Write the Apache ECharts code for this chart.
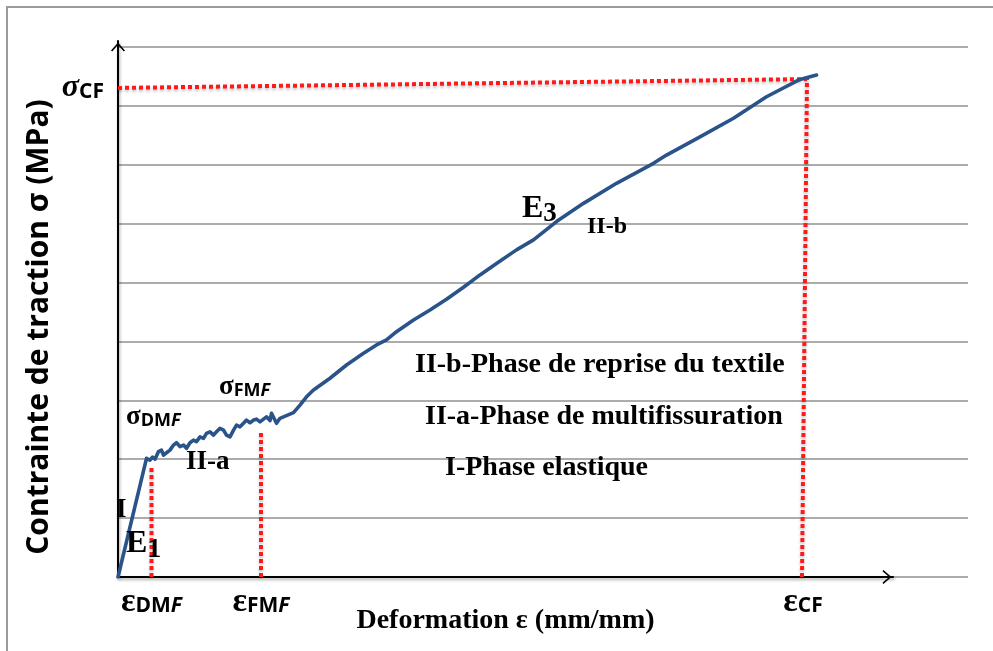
<!DOCTYPE html>
<html>
<head>
<meta charset="utf-8">
<script src="https://cdn.jsdelivr.net/npm/echarts@6/dist/echarts.min.js"></script>
<style>
  html, body { margin: 0; padding: 0; background: #ffffff; }
  #chart { width: 993px; height: 651px; }
</style>
</head>
<body>
<div id="chart"></div>
<script>
// Tensile behaviour of a textile-reinforced mortar: strain (mm/mm) vs tensile stress (MPa)

// Measured curve
const strain = [
  0, 0.00057, 0.00064, 0.00069, 0.00074, 0.00081, 0.00087, 0.00091, 0.00097, 0.00104,
  0.00111, 0.00117, 0.00124, 0.00131, 0.00137, 0.00144, 0.00151, 0.00157, 0.00164, 0.00171,
  0.00177, 0.00184, 0.00191, 0.00197, 0.00204, 0.00211, 0.00217, 0.00224, 0.00231, 0.00237,
  0.00244, 0.00251, 0.00257, 0.00264, 0.00271, 0.00277, 0.00284, 0.00291, 0.00297, 0.00304,
  0.00307, 0.00311, 0.00317, 0.00324, 0.00331, 0.00351, 0.00364, 0.00377, 0.00391, 0.00424,
  0.00457, 0.00491, 0.00517, 0.00537, 0.00557, 0.00591, 0.00624, 0.00657, 0.00691, 0.00724,
  0.00757, 0.00797, 0.00831, 0.00877, 0.00931, 0.00997, 0.01071, 0.01097, 0.01164, 0.01231,
  0.01297, 0.01364, 0.01397
];
const stress = [
  0, 4.03, 3.97, 4.07, 4.00, 4.26, 4.31, 4.14, 4.22, 4.31,
  4.48, 4.56, 4.43, 4.48, 4.37, 4.56, 4.65, 4.60, 4.76, 4.71,
  4.88, 4.93, 4.82, 4.93, 5.05, 4.99, 4.82, 4.76, 4.99, 5.16,
  5.10, 5.22, 5.33, 5.24, 5.33, 5.36, 5.27, 5.36, 5.44, 5.31,
  5.56, 5.50, 5.22, 5.39, 5.44, 5.58, 5.84, 6.12, 6.35, 6.75,
  7.20, 7.60, 7.88, 8.05, 8.33, 8.73, 9.07, 9.43, 9.84, 10.26,
  10.65, 11.11, 11.45, 12.07, 12.69, 13.37, 14.05, 14.33, 14.95, 15.58,
  16.31, 16.90, 17.05
];

// Dotted guide lines (strain, stress)
const guideCFStrain = [0, 0.01378, 0.01368];
const guideCFStress = [16.61, 16.91, 0];
const guideDMFStrain = [0.00067, 0.00067];
const guideDMFStress = [0, 3.70];
const guideFMFStrain = [0.00286, 0.00286];
const guideFMFStress = [0, 4.90];

// Characteristic points shown on the axes
const strainTicks = [0.00067, 0.00286, 0.01370];
const strainTickNames = ['DM|F', 'FM|F', 'CF|'];
const stressTicks = [16.61];
const stressTickNames = ['CF'];

// Annotation texts
const phaseNotes = [
  'II-b-Phase de reprise du textile',
  'II-a-Phase de multifissuration',
  'I-Phase elastique'
];

const SERIF = '"Liberation Serif", "Times New Roman", serif';
const SANS = '"Open Sans", "Liberation Sans", sans-serif';
const BLUE = '#2a5389';
const RED = '#ff1a1a';

const pairs = (xs, ys) => xs.map((x, i) => [x, ys[i]]);
const nearest = (arr, v) => {
  let best = 0;
  arr.forEach((a, i) => { if (Math.abs(a - v) < Math.abs(arr[best] - v)) best = i; });
  return best;
};

// Open chevron used as arrow head on both axes
const CHEVRON = 'path://M10,0 L20,11.6 L18.3,13 L10,3.5 L1.7,13 L0,11.6 Z';
const axisShadow = { shadowColor: 'rgba(0,0,0,0.35)', shadowBlur: 3, shadowOffsetX: 1, shadowOffsetY: 2 };

const dotted = {
  color: RED, width: 4, type: [4, 3], cap: 'butt',
  shadowColor: 'rgba(0,0,0,0.25)', shadowBlur: 3, shadowOffsetY: 2
};

function guideSeries(xs, ys) {
  return {
    type: 'line', xAxisIndex: 0, yAxisIndex: 0, data: pairs(xs, ys),
    symbol: 'none', lineStyle: dotted, z: 4, silent: true
  };
}

function subText(x, y, main, sub, opts) {
  const o = Object.assign({ mainSize: 30, subSize: 22, drop: 10, mainFont: SERIF, mainItalic: false, subFont: SERIF, subItalic: false, subBold: true }, opts || {});
  const parts = sub.split('|');
  let text = '{m|' + main + '}{s|' + parts[0] + '}';
  if (parts[1]) text += '{i|' + parts[1] + '}';
  return {
    type: 'text', x: x, y: y, z: 20,
    style: {
      text: text, align: 'left', verticalAlign: 'top',
      rich: {
        m: { fill: '#000', fontFamily: o.mainFont, fontWeight: 'bold', fontStyle: o.mainItalic ? 'italic' : 'normal', fontSize: o.mainSize, verticalAlign: 'top' },
        s: { fill: '#000', fontFamily: o.subFont, fontWeight: o.subBold ? 'bold' : 'normal', fontSize: o.subSize, verticalAlign: 'top', padding: [o.drop, 0, 0, 0] },
        i: { fill: '#000', fontFamily: o.subFont, fontWeight: 'bold', fontStyle: 'italic', fontSize: o.subSize, verticalAlign: 'top', padding: [o.drop, 0, 0, 0] }
      }
    }
  };
}

function plainText(x, y, text, size) {
  return {
    type: 'text', x: x, y: y, z: 20,
    style: { text: text, fill: '#000', font: 'bold ' + size + 'px ' + SERIF, align: 'left', verticalAlign: 'middle' }
  };
}

const chart = echarts.init(document.getElementById('chart'), null, { renderer: 'canvas' });

const option = {
  animation: false,
  backgroundColor: '#ffffff',
  grid: [
    { left: 118, right: 25, top: 47, bottom: 74 },
    { left: 118, right: 100, top: 41, bottom: 74 }
  ],
  xAxis: [
    {
      gridIndex: 0, type: 'value', min: 0, max: 0.017,
      axisLine: { show: false }, axisTick: { show: false }, splitLine: { show: false },
      axisLabel: {
        customValues: strainTicks, margin: 8,
        formatter: v => {
          const parts = strainTickNames[nearest(strainTicks, v)].split('|');
          return '{e|ε}{s|' + parts[0] + '}' + (parts[1] ? '{f|' + parts[1] + '}' : '');
        },
        rich: {
          e: { color: '#000', fontFamily: SERIF, fontWeight: 'bold', fontSize: 34, verticalAlign: 'top' },
          s: { color: '#000', fontFamily: SANS, fontWeight: 'bold', fontSize: 21, verticalAlign: 'top', padding: [11, 0, 0, 0] },
          f: { color: '#000', fontFamily: SANS, fontWeight: 'bold', fontStyle: 'italic', fontSize: 21, verticalAlign: 'top', padding: [11, 0, 0, 0] }
        }
      }
    },
    {
      gridIndex: 1, type: 'value', min: 0, max: 0.0155,
      axisLine: {
        show: true, symbol: ['none', CHEVRON], symbolSize: [14, 12], symbolOffset: [0, -6],
        lineStyle: Object.assign({ color: '#000', width: 2 }, axisShadow)
      },
      axisTick: { show: false }, axisLabel: { show: false }, splitLine: { show: false },
      name: 'Deformation ε (mm/mm)', nameLocation: 'middle', nameGap: 29,
      nameTextStyle: { color: '#000', fontFamily: SERIF, fontWeight: 'bold', fontSize: 28, lineHeight: 30 }
    }
  ],
  yAxis: [
    {
      gridIndex: 0, type: 'value', min: 0, max: 18, interval: 2,
      axisLine: { show: false }, axisTick: { show: false },
      splitLine: { show: true, lineStyle: { color: '#919191', width: 1.6 } },
      axisLabel: {
        customValues: stressTicks, margin: 14,
        formatter: v => '{g|σ}{s|' + stressTickNames[nearest(stressTicks, v)] + '}',
        rich: {
          g: { color: '#000', fontFamily: SERIF, fontStyle: 'italic', fontWeight: 'bold', fontSize: 32, verticalAlign: 'top' },
          s: { color: '#000', fontFamily: SANS, fontWeight: 'bold', fontSize: 21, verticalAlign: 'top', padding: [10, 0, 0, 0] }
        }
      }
    },
    {
      gridIndex: 1, type: 'value', min: 0, max: 18,
      axisLine: {
        show: true, symbol: ['none', CHEVRON], symbolSize: [14, 12], symbolOffset: [0, -6],
        lineStyle: Object.assign({ color: '#000', width: 2 }, axisShadow)
      },
      axisTick: { show: false }, axisLabel: { show: false }, splitLine: { show: false },
      name: 'Contrainte de traction σ (MPa)', nameLocation: 'middle', nameRotate: 90, nameGap: 64,
      nameTextStyle: { color: '#000', fontFamily: SANS, fontWeight: 'bold', fontSize: 30, padding: [0, 36, 0, 0] }
    }
  ],
  series: [
    guideSeries(guideCFStrain, guideCFStress),
    guideSeries(guideDMFStrain, guideDMFStress),
    guideSeries(guideFMFStrain, guideFMFStress),
    {
      type: 'line', xAxisIndex: 0, yAxisIndex: 0, data: pairs(strain, stress),
      symbol: 'none', z: 5, silent: true,
      lineStyle: { color: BLUE, width: 3.6, join: 'round', cap: 'round' }
    }
  ],
  graphic: [
    {
      type: 'polyline', z: 1, silent: true,
      shape: { points: [[7, 651], [7, 7], [993, 7]] },
      style: { stroke: '#9b9b9b', lineWidth: 2, fill: null }
    },
    plainText(116, 510, 'I', 27),
    subText(126, 528, 'E', '1', { mainSize: 32, subSize: 28, drop: 8 }),
    plainText(186, 462, 'II-a', 27),
    subText(126, 404, 'σ', 'DM|F', { mainSize: 27, subSize: 18, drop: 8, subFont: SANS }),
    subText(219, 374, 'σ', 'FM|F', { mainSize: 27, subSize: 18, drop: 8, subFont: SANS }),
    subText(522, 193, 'E', '3', { mainSize: 32, subSize: 27, drop: 8 }),
    plainText(587, 227, 'II-b', 24),
    plainText(415, 365, phaseNotes[0], 28),
    plainText(425, 417, phaseNotes[1], 28),
    plainText(445, 468, phaseNotes[2], 28)
  ]
};

chart.setOption(option);
</script>
</body>
</html>
